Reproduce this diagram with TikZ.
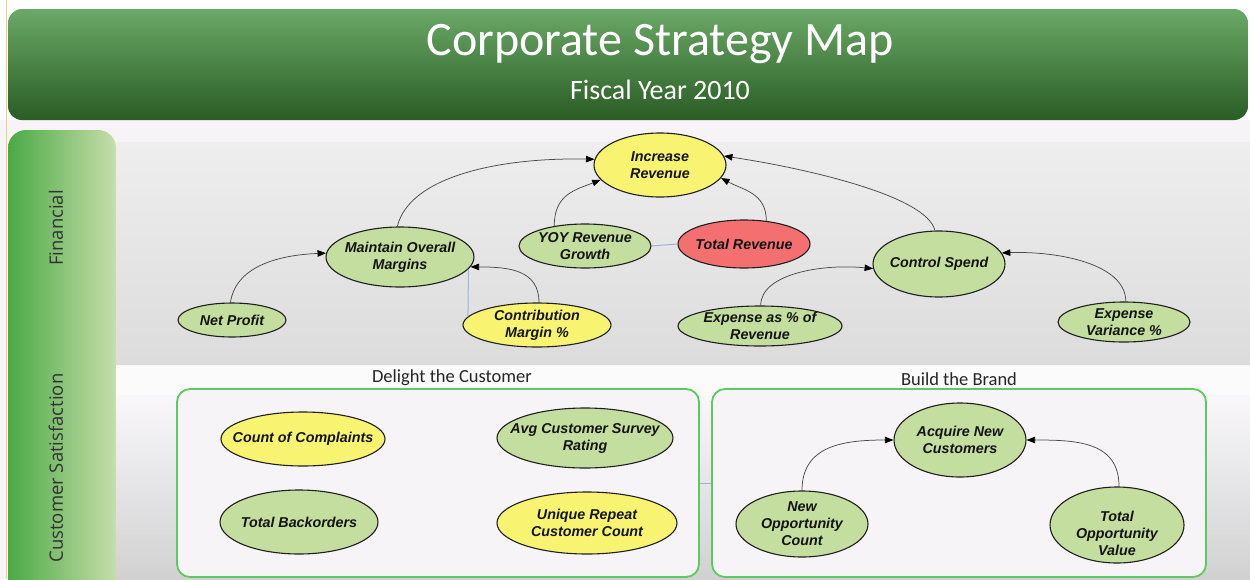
\documentclass[tikz,border=0pt]{standalone}
\usepackage{fontspec}
\setmainfont{Liberation Sans}
\newfontfamily\carl{Carlito}
\newfontfamily\opens{Open Sans}
\usetikzlibrary{shapes.geometric,arrows.meta}
\definecolor{nodegreen}{HTML}{C3DE9E}
\definecolor{nodeyellow}{HTML}{F8F472}
\definecolor{nodered}{HTML}{F47070}
\definecolor{ttop}{HTML}{6AA967}
\definecolor{tbot}{HTML}{2A5C24}
\definecolor{colL}{HTML}{4AAA45}
\definecolor{colR}{HTML}{C8DDAB}
\definecolor{pagebg}{HTML}{F6F4F7}
\definecolor{laneTop}{HTML}{EFEEEF}
\definecolor{laneBot}{HTML}{DDDCDD}
\definecolor{boxgreen}{HTML}{5CCB5C}
\definecolor{connc}{HTML}{4A4A4A}
\definecolor{bluec}{HTML}{9AB7DA}
\definecolor{edgeline}{HTML}{F2CF7A}
\begin{document}
\begin{tikzpicture}[x=1pt,y=-1pt,
  ell/.style={ellipse, draw=black!88, line width=1.1pt, inner sep=0pt},
  gr/.style={fill=nodegreen}, yl/.style={fill=nodeyellow}, rd/.style={fill=nodered},
  lbl/.style={font=\fontsize{14.3}{17}\selectfont\bfseries\itshape, align=center, inner sep=0pt, text=black!92},
  conn/.style={draw=connc, line width=0.75pt, -{Triangle[length=8.5pt,width=6.5pt,fill=black,color=black]}},
  bl/.style={draw=bluec, line width=1pt},
  grpbox/.style={draw=boxgreen, line width=1.8pt, rounded corners=13pt, fill=pagebg, inner sep=0pt},
  grplbl/.style={font=\carl\fontsize{18.5}{20}\selectfont, text=black!85, inner sep=0pt},
  lanelbl/.style={font=\opens\fontsize{18.5}{20}\selectfont, text=black!80, inner sep=0pt, rotate=90}
]
\useasboundingbox (0,0) rectangle (1250,579);
\begin{scope}
\clip (0,0) rectangle (1250,579);
% backgrounds
\fill[white] (0,0) rectangle (1250,579);
\fill[pagebg] (0,120) rectangle (1250,579);
\shade[top color=laneTop, bottom color=laneBot] (116,142) rectangle (1250,364);
\fill[white!60!pagebg] (116,366) rectangle (1250,395);
\shade[top color=pagebg!70!white, bottom color=laneBot!95!black] (116,395) rectangle (1250,579);
% left column
\shade[left color=colL, right color=colR, rounded corners=18pt] (8,130) rectangle (116,640);
\draw[edgeline, line width=1pt] (6,0) -- (6,579);
% title banner
\shade[top color=ttop, bottom color=tbot, rounded corners=14pt] (8,9) rectangle (1248,120);
\end{scope}
\node[font=\carl\fontsize{48}{50}\selectfont, text=white, anchor=base, inner sep=0pt] (title) at (660,55) {Corporate Strategy Map};
\node[font=\carl\fontsize{28}{30}\selectfont, text=white, anchor=base, inner sep=0pt] (subtitle) at (660,99) {Fiscal Year 2010};
% lane labels
\node[lanelbl] (fin) at (56,228) {Financial};
\node[lanelbl] (csat) at (56,468) {Customer Satisfaction};
% group boxes
\node[grpbox, minimum width=522pt, minimum height=188pt] (dbox) at (438,483) {};
\node[grpbox, minimum width=494pt, minimum height=188pt] (bbox) at (959,483) {};
\node[grplbl] (dlbl) at (452,378) {Delight the Customer};
\node[grplbl] (blbl) at (959,379) {Build the Brand};
\draw[bl] (dbox.east) -- (bbox.west);
% financial nodes
\node[ell,yl,minimum width=132pt,minimum height=64pt,label={[lbl]center:{Increase\\Revenue}}] (ir) at (660,165) {};
\node[ell,gr,minimum width=148pt,minimum height=60pt,label={[lbl]center:{Maintain Overall\\Margins}}] (mom) at (400,257) {};
\node[ell,gr,minimum width=132pt,minimum height=44pt,label={[lbl]center:{YOY Revenue\\Growth}}] (yoy) at (585,246) {};
\node[ell,rd,minimum width=132pt,minimum height=48pt,label={[lbl]center:{Total Revenue}}] (tr) at (744,244) {};
\node[ell,gr,minimum width=132pt,minimum height=66pt,label={[lbl]center:{Control Spend}}] (cs) at (939,264) {};
\node[ell,gr,minimum width=108pt,minimum height=34pt,label={[lbl]center:{Net Profit}}] (np) at (232,320) {};
\node[ell,yl,minimum width=148pt,minimum height=44pt,label={[lbl]center:{Contribution\\Margin \%}}] (cm) at (537,325) {};
\node[ell,gr,minimum width=164pt,minimum height=40pt,label={[lbl]center:{Expense as \% of\\Revenue}}] (ea) at (760,326) {};
\node[ell,gr,minimum width=132pt,minimum height=40pt,label={[lbl]center:{Expense\\Variance \%}}] (ev) at (1124,322) {};
% customer nodes
\node[ell,yl,minimum width=164pt,minimum height=54pt,label={[lbl]center:{Count of Complaints}}] (cc) at (303,439) {};
\node[ell,gr,minimum width=176pt,minimum height=60pt,label={[lbl]center:{Avg Customer Survey\\Rating}}] (acs) at (585,438) {};
\node[ell,gr,minimum width=158pt,minimum height=64pt,label={[lbl]center:{Total Backorders}}] (tb) at (299,522) {};
\node[ell,yl,minimum width=180pt,minimum height=62pt,label={[lbl]center:{Unique Repeat\\Customer Count}}] (urc) at (587,523) {};
\node[ell,gr,minimum width=132pt,minimum height=74pt,label={[lbl]center:{Acquire New\\Customers}}] (anc) at (960,440) {};
\node[ell,gr,minimum width=132pt,minimum height=66pt,label={[lbl]center:{New\\Opportunity\\Count}}] (noc) at (802,524) {};
\node[ell,gr,minimum width=134pt,minimum height=76pt,label={[lbl,yshift=-8pt]center:{Total\\Opportunity\\Value}}] (tov) at (1117,525) {};
% blue links
\draw[bl] (yoy.east) -- (tr.west);
\draw[bl] (mom.-10) -- (cm.173);
% arrows
\draw[conn] (mom.95) .. controls +(12,-50) and +(-95,-2) .. (ir.175);
\draw[conn] (yoy.147) .. controls +(0,-32) and +(-25,10) .. (ir.-166);
\draw[conn] (tr.46) .. controls +(0,-28) and +(22,12) .. (ir.-12);
\draw[conn] (cs.97) .. controls +(-8,-35) and +(80,12) .. (ir.8);
\draw[conn] (np.95) .. controls +(5,-35) and +(-50,2) .. (mom.177);
\draw[conn] (cm.85) .. controls +(0,-32) and +(40,0) .. (mom.-8);
\draw[conn] (ea.88) .. controls +(0,-32) and +(-50,-5) .. (cs.184);
\draw[conn] (ev.85) .. controls +(0,-38) and +(55,-2) .. (cs.10);
\draw[conn] (noc.north) .. controls +(0,-45) and +(-50,0) .. (anc.west);
\draw[conn] (tov.87) .. controls +(0,-45) and +(50,0) .. (anc.east);
\end{tikzpicture}
\end{document}
